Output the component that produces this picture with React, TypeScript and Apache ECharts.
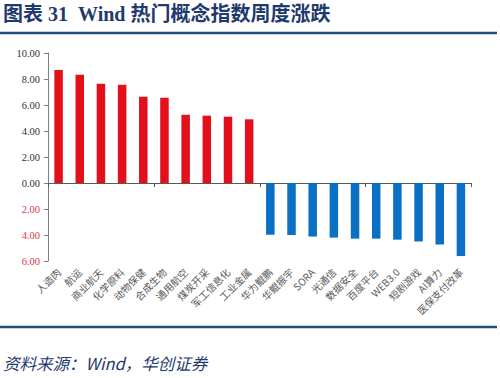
import React, { useEffect, useRef } from "react";
import * as echarts from "echarts";

const categories = [
  "人造肉", "航运", "商业航天", "化学原料", "动物保健", "合成生物", "通用航空", "煤炭开采", "军工信息化", "工业金属",
  "华为鲲鹏", "华鲲振宇", "SORA", "光通信", "数据安全", "百度平台", "WEB3.0", "短剧游戏", "AI算力", "医保支付改革",
];
const values = [
  8.69, 8.33, 7.64, 7.56, 6.64, 6.56, 5.25, 5.18, 5.1, 4.9,
  -3.98, -4.0, -4.12, -4.2, -4.28, -4.28, -4.36, -4.5, -4.73, -5.62,
];
const yMin = -6;
const yMax = 10;
const yInterval = 2;
const titleText = "图表 31  Wind 热门概念指数周度涨跌";
const sourceText = "资料来源：Wind，华创证券";

const RED = "#E3101B";
const BLUE = "#0A70C4";
const NAVY = "#1F3A6E";

export default function App() {
  const ref = useRef<HTMLDivElement>(null);
  useEffect(() => {
    if (!ref.current) return;
    const chart = echarts.init(ref.current, null, { renderer: "svg" });
    chart.setOption({
      animation: false,
      backgroundColor: "#ffffff",
      grid: { left: 48, right: 28.5, top: 53, bottom: 117, containLabel: false },
      xAxis: [
        {
          type: "category",
          data: categories,
          axisLine: { onZero: true, lineStyle: { color: "#595959", width: 1 } },
          axisTick: { show: true, length: 4, lineStyle: { color: "#595959" } },
          axisLabel: { show: false },
          splitLine: { show: false },
        },
        {
          type: "category",
          data: categories,
          position: "bottom",
          axisLine: { show: false, onZero: false },
          axisTick: { show: false },
          axisLabel: {
            show: true,
            rotate: 45,
            interval: 0,
            margin: 9,
            fontSize: 10,
            color: "#595959",
            fontFamily: "Noto Sans CJK SC",
          },
          splitLine: { show: false },
        },
      ],
      yAxis: {
        type: "value",
        min: yMin,
        max: yMax,
        interval: yInterval,
        axisLine: { show: true, lineStyle: { color: "#7f7f7f", width: 1 } },
        axisTick: { show: true, length: 4, lineStyle: { color: "#7f7f7f" } },
        splitLine: { show: false },
        axisLabel: {
          fontSize: 10.5,
          fontFamily: "Liberation Serif",
          margin: 8,
          formatter: (v: number) => Math.abs(v).toFixed(2),
          color: (v: any) => (Number(v) < 0 ? "#E0334A" : "#333333"),
        },
      },
      series: [
        {
          type: "bar",
          xAxisIndex: 0,
          data: values,
          barWidth: 8.5,
          itemStyle: {
            color: (p: any) => (p.value >= 0 ? RED : BLUE),
          },
        },
      ],
      graphic: [
        {
          type: "text",
          left: 3,
          top: 4,
          style: {
            text: titleText,
            fill: NAVY,
            font: "bold 20px 'Liberation Serif', 'Noto Sans CJK SC'",
          },
        },
        {
          type: "line",
          shape: { x1: 0, y1: 33, x2: 497, y2: 33 },
          style: { stroke: "#1F4E79", lineWidth: 2.5 },
        },
        {
          type: "line",
          shape: { x1: 0, y1: 327, x2: 497, y2: 327 },
          style: { stroke: "#1F4E79", lineWidth: 2.5 },
        },
        {
          type: "text",
          left: 3,
          top: 355,
          style: {
            text: sourceText,
            fill: NAVY,
            font: "italic 16.5px 'Noto Sans CJK SC'",
          },
        },
      ],
    });
    return () => chart.dispose();
  }, []);
  return (
    <div
      ref={ref}
      style={{ position: "absolute", left: 0, top: 0, width: 500, height: 378 }}
    />
  );
}
